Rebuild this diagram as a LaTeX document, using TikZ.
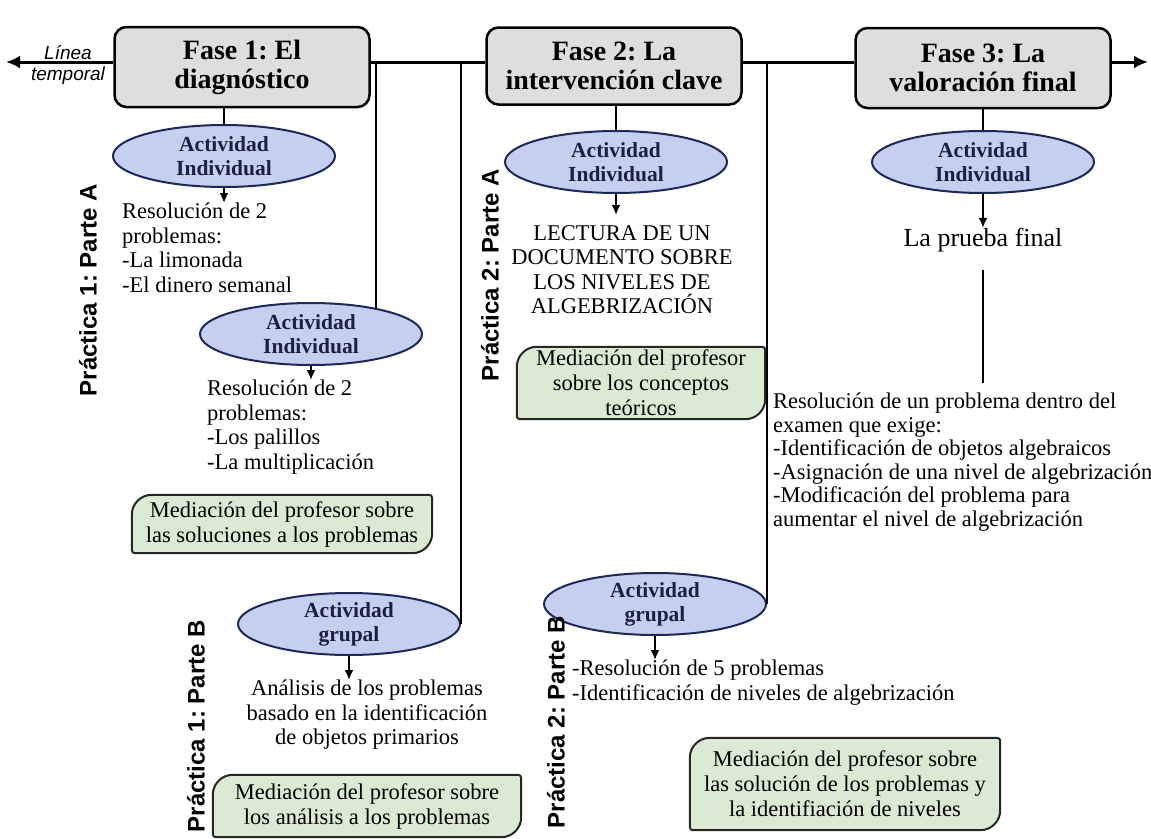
\documentclass[tikz,border=0pt]{standalone}
\usepackage{fontspec}
\setmainfont{Liberation Serif}
\setsansfont{Liberation Sans}
\usepackage{tikz}
\usetikzlibrary{shapes.geometric, arrows.meta, backgrounds}
\frenchspacing
\definecolor{fasegris}{RGB}{222,222,222}
\definecolor{actfill}{RGB}{198,207,240}
\definecolor{actline}{RGB}{28,40,88}
\definecolor{acttext}{RGB}{26,32,64}
\definecolor{medfill}{RGB}{218,234,211}
\tikzstyle{fase} = [rectangle, rounded corners=12pt, 
minimum width=255pt, 
minimum height=80pt, 
align=center, inner sep=0pt,
draw=black, line width=2.5pt, fill=fasegris,
font=\fontsize{28}{29}\selectfont\bfseries]
\tikzstyle{act} = [ellipse, 
minimum width=222pt, 
minimum height=62pt, 
inner sep=0pt, align=center,
draw=actline, line width=2pt, fill=actfill, text=acttext,
font=\fontsize{21.5}{24}\selectfont\bfseries]
\tikzstyle{tarea} = [inner sep=0pt, align=left, font=\fontsize{22.5}{24.5}\selectfont]
\tikzstyle{med} = [inner sep=0pt, align=center, font=\fontsize{22.5}{25}\selectfont]
\tikzstyle{medline} = [draw=black!85, line width=2pt, fill=medfill]
\tikzstyle{practica} = [rotate=90, inner sep=0pt, font=\sffamily\bfseries\fontsize{24}{26}\selectfont]
\tikzstyle{nota} = [inner sep=0pt, font=\sffamily\itshape\fontsize{19}{21}\selectfont]
\tikzstyle{linea} = [line width=2pt]
\tikzstyle{arrow} = [line width=2pt,-{Latex[length=10pt, width=9pt]}]
\tikzstyle{tiempo} = [line width=3pt,-{Latex[length=14pt, width=13pt]}]
% marco verde: esquinas diagonales redondeadas
\newcommand{\medframe}[1]{%
\draw[medline] ([yshift=-20pt]#1.north west) arc[start angle=180, end angle=90, radius=20pt]
  -- ([xshift=-3pt]#1.north east) arc[start angle=90, end angle=0, radius=3pt]
  -- ([yshift=20pt]#1.south east) arc[start angle=0, end angle=-90, radius=20pt]
  -- ([xshift=3pt]#1.south west) arc[start angle=270, end angle=180, radius=3pt] -- cycle;}

\begin{document}
\begin{tikzpicture}[x=1pt, y=-1pt]
\useasboundingbox (0,0) rectangle (1151,838);
% linea temporal
\node (f1) [fase] at (242,67) {Fase 1: El\\diagnóstico};
\node (f2) [fase, minimum height=77pt] at (614,66) {Fase 2: La\\intervención clave};
\node (f3) [fase] at (983,68) {Fase 3: La\\valoración final};
\coordinate (tl) at (6,62);
\coordinate (tr) at (1148,62);
\draw [tiempo] (tl -| f1.west) -- (tl);
\draw [linea, line width=3pt] (f1.east |- tl) -- (f2.west |- tl);
\draw [linea, line width=3pt] (f2.east |- tl) -- (f3.west |- tl);
\draw [tiempo] (f3.east |- tl) -- (tr);
\node (lin) [nota] at (68,53) {Línea};
\node (temp) [nota] at (68,76) {temporal};

% practica 1
\node (e1) [act] at (224,156) {Actividad\\Individual};
\draw [linea] (e1.north |- f1.south) -- (e1.north);
\node (t1) [tarea, anchor=north west] at (122,203) {Resolución de 2\\problemas:\\-La limonada\\-El dinero semanal};
\draw [arrow] (e1.south) -- (e1.south |- t1.north);

\node (e2) [act] at (311,334) {Actividad\\Individual};
\draw [linea] (e2.22 |- tl) -- (e2.22);
\node (t2) [tarea, anchor=north west] at (207,380) {Resolución de 2\\problemas:\\-Los palillos\\-La multiplicación};
\draw [arrow] (e2.south) -- (e2.south |- t2.north);
\node (m1) [med, minimum width=300pt, minimum height=58pt] at (282,524) {Mediación del profesor sobre\\las soluciones a los problemas};

\node (e3) [act] at (349,624) {Actividad\\grupal};
\draw [linea] (e3.east |- tl) -- (e3.east);
\node (t3) [tarea, align=center, anchor=north] at (367,680) {Análisis de los problemas\\basado en la identificación\\de objetos primarios};
\draw [arrow] (e3.south) -- (e3.south |- t3.north);
\node (m2) [med, minimum width=308pt, minimum height=62pt] at (367,806) {Mediación del profesor sobre\\los análisis a los problemas};

\node (p1a) [practica] at (88,290) {Práctica 1: Parte A};
\node (p1b) [practica] at (196,726) {Práctica 1: Parte B};

% practica 2
\node (e4) [act] at (616,162) {Actividad\\Individual};
\draw [linea] (e4.north |- f2.south) -- (e4.north);
\node (t4) [tarea, align=center, anchor=north] at (622,225) {LECTURA DE UN\\DOCUMENTO SOBRE\\LOS NIVELES DE\\ALGEBRIZACIÓN};
\draw [arrow, shorten >=10pt] (e4.south) -- (e4.south |- t4.north);
\node (m3) [med, minimum width=248pt, minimum height=72pt] at (641,383) {Mediación del profesor\\sobre los conceptos\\teóricos};

\node (e5) [act] at (655,604) {Actividad\\grupal};
\draw [linea] (e5.east |- tl) -- (e5.east);
\node (t5) [tarea, anchor=north west] at (572,660) {-Resolución de 5 problemas\\-Identificación de niveles de algebrización};
\draw [arrow] (e5.south) -- (e5.south |- t5.north);
\node (m4) [med, minimum width=310pt, minimum height=92pt] at (845,784) {Mediación del profesor sobre\\las solución de los problemas y\\la identifiación de niveles};

\node (p2a) [practica] at (490,275) {Práctica 2: Parte A};
\node (p2b) [practica] at (556,722) {Práctica 2: Parte B};

% fase 3
\node (e6) [act] at (983,162) {Actividad\\Individual};
\draw [linea] (e6.north |- f3.south) -- (e6.north);
\node (final) [inner sep=0pt, font=\fontsize{26}{28}\selectfont] at (983,240) {La prueba final};
\draw [arrow] (e6.south) -- (final.north);
\node (t6) [tarea, anchor=north west, font=\fontsize{22.5}{23.5}\selectfont] at (773,393) {Resolución de un problema dentro del\\examen que exige:\\-Identificación de objetos algebraicos\\-Asignación de una nivel de algebrización\\-Modificación del problema para\\aumentar el nivel de algebrización};
\draw [linea, shorten <=18pt, shorten >=10pt] (final.south) -- (final.south |- t6.north);

\begin{scope}[on background layer]
\medframe{m1}
\medframe{m2}
\medframe{m3}
\medframe{m4}
\end{scope}
\end{tikzpicture}
\end{document}
